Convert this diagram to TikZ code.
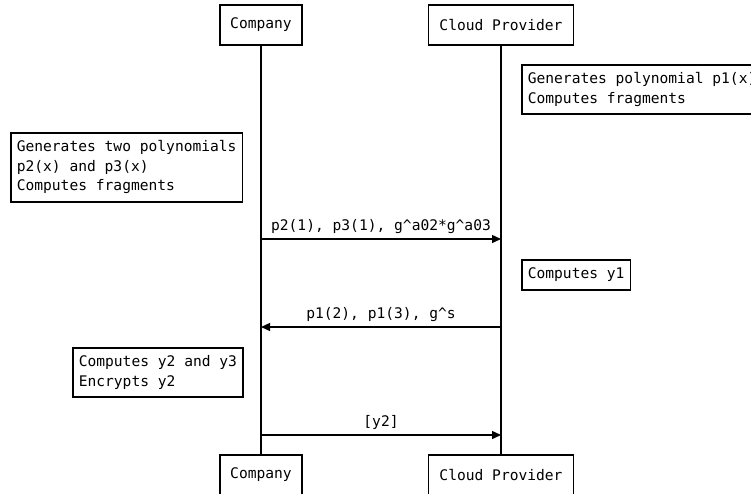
\documentclass[tikz,border=0pt]{standalone}
\usepackage{fontspec}
\setmonofont{DejaVu Sans Mono}
\usetikzlibrary{arrows.meta}
\begin{document}
\begin{tikzpicture}[x=1pt,y=-1pt,
  every node/.style={font=\ttfamily\fontsize{14.6}{19.5}\selectfont, text=black},
  actor/.style={draw, line width=1.6pt, minimum height=40pt, inner sep=0pt},
  note/.style={draw, line width=1.6pt, anchor=north west, align=left, inner sep=0pt, inner xsep=6pt},
  life/.style={line width=1.6pt},
  msg/.style={line width=1.4pt, -{Triangle[length=9pt,width=8pt]}},
  lbl/.style={above=1pt, midway}
]
\useasboundingbox (0,0) rectangle (751,493);
\clip (0,0) rectangle (751,493);
\fill[white] (0,0) rectangle (751,493);
% actors
\node[actor, minimum width=82pt] (c1) at (261,25) {Company};
\node[actor, minimum width=145pt] (p1) at (501,25) {Cloud Provider};
\node[actor, minimum width=82pt] (c2) at (261,475) {Company};
\node[actor, minimum width=145pt] (p2) at (501,475) {Cloud Provider};
% lifelines
\draw[life] (c1.south) -- (c2.north);
\draw[life] (p1.south) -- (p2.north);
% notes
\node[note, minimum width=236pt, minimum height=49pt] (n1) at (521,64) {Generates polynomial p1(x)\\Computes fragments};
\node[note, minimum width=231pt, minimum height=69pt] (n2) at (10,132) {Generates two polynomials\\p2(x) and p3(x)\\Computes fragments};
\node[note, minimum width=108pt, minimum height=30pt] (n3) at (521,259) {Computes y1};
\node[note, minimum width=170pt, minimum height=49pt] (n4) at (72,347) {Computes y2 and y3\\Encrypts y2};
% message endpoints
\coordinate (a1s) at (c1.south |- 0,239);
\coordinate (a1e) at (p1.south |- 0,239);
\coordinate (a2s) at (p1.south |- 0,327);
\coordinate (a2e) at (c1.south |- 0,327);
\coordinate (a3s) at (c1.south |- 0,435);
\coordinate (a3e) at (p1.south |- 0,435);
\draw[msg] (a1s) -- node[lbl] (m1) {p2(1), p3(1), g\textasciicircum a02*g\textasciicircum a03} (a1e);
\draw[msg] (a2s) -- node[lbl] (m2) {p1(2), p1(3), g\textasciicircum s} (a2e);
\draw[msg] (a3s) -- node[lbl] (m3) {[y2]} (a3e);
\end{tikzpicture}
\end{document}
